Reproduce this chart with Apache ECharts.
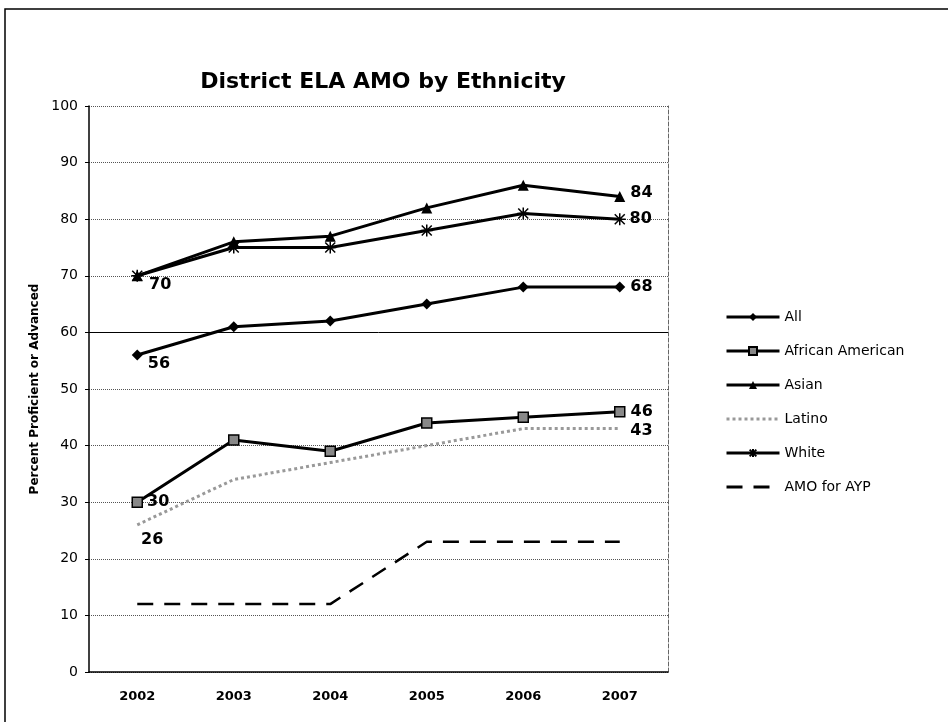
<!DOCTYPE html>
<html>
<head>
<meta charset="utf-8">
<script src="https://cdn.jsdelivr.net/npm/echarts@6/dist/echarts.min.js"></script>
<style>
    html, body { margin: 0; padding: 0; background: #fff; }
    #chart { width: 948px; height: 722px; }
</style>
</head>
<body>
<div id="chart"></div>
<script>
var years = ['2002', '2003', '2004', '2005', '2006', '2007'];
var data_all = [56, 61, 62, 65, 68, 68];
var data_african_american = [30, 41, 39, 44, 45, 46];
var data_asian = [70, 76, 77, 82, 86, 84];
var data_latino = [26, 34, 37, 40, 43, 43];
var data_white = [70, 75, 75, 78, 81, 80];
var data_amo = [12, 12, 12, 23, 23, 23];
var y_ticks = [0, 10, 20, 30, 40, 50, 60, 70, 80, 90, 100];

var labelFont = { fontFamily: 'DejaVu Sans', fontWeight: 'bold', fontSize: 16, color: '#000' };

// only the first and last point of a series carry a value label
function withLabels(values, first, last) {
    return values.map(function (v, i) {
        var item = { value: v };
        if (i == 0 && first) {
            item.label = Object.assign({ show: true }, labelFont, first);
        } else if (i == values.length - 1 && last) {
            item.label = Object.assign({ show: true }, labelFont, last);
        }
        return item;
    });
}

var asterisk = 'path://M0,0L10,10M10,0L0,10M5,-1L5,11M-1,5L11,5';

var myChart = echarts.init(document.getElementById('chart'));

var option = {
    animation: false,
    backgroundColor: '#fff',
    textStyle: { fontFamily: 'DejaVu Sans' },
    title: {
        text: 'District ELA AMO by Ethnicity',
        left: 378,
        textAlign: 'center',
        top: 66,
        textStyle: { fontFamily: 'DejaVu Sans', fontWeight: 'bold', fontSize: 22, color: '#000' }
    },
    legend: {
        orient: 'vertical',
        left: 725,
        top: 310,
        padding: 0,
        itemWidth: 53,
        itemHeight: 10,
        itemGap: 20,
        lineStyle: { width: 3 },
        textStyle: { fontFamily: 'DejaVu Sans', fontSize: 14, color: '#000' },
        data: ['All', 'African American', 'Asian', 'Latino', 'White', 'AMO for AYP']
    },
    graphic: [{
        type: 'rect',
        shape: { x: 5, y: 9, width: 980, height: 760 },
        style: { fill: 'none', stroke: '#000', lineWidth: 1.5 },
        silent: true
    }],
    grid: { left: 89, right: 280, top: 106, bottom: 50 },
    xAxis: {
        type: 'category',
        data: years,
        boundaryGap: true,
        axisLine: { lineStyle: { color: '#000', width: 1.5 } },
        axisTick: { show: false },
        axisLabel: { fontFamily: 'DejaVu Sans', fontWeight: 'bold', fontSize: 13, color: '#000', margin: 18 }
    },
    yAxis: [{
        type: 'value',
        min: 0,
        max: 100,
        interval: 10,
        name: 'Percent Proficient or Advanced',
        nameLocation: 'middle',
        nameGap: 48,
        nameTextStyle: { fontFamily: 'DejaVu Sans', fontWeight: 'bold', fontSize: 12, color: '#000' },
        axisLine: { show: true, lineStyle: { color: '#000', width: 1.5 } },
        axisTick: { show: true, inside: false, length: 4, lineStyle: { color: '#000' } },
        axisLabel: {
            fontFamily: 'DejaVu Sans', fontSize: 14, color: '#000', margin: 11,
            formatter: function (v) { return y_ticks.indexOf(v) >= 0 ? String(v) : ''; }
        },
        splitLine: { show: true, lineStyle: { color: '#555', type: 'dotted', width: 1 } }
    }, {
        type: 'value',
        position: 'right',
        min: 0,
        max: 100,
        interval: 10,
        axisLine: { show: true, lineStyle: { color: '#666', type: 'dashed', width: 1 } },
        axisTick: { show: false },
        axisLabel: { show: false },
        splitLine: { show: false }
    }],
    series: [{
        name: 'All',
        type: 'line',
        data: withLabels(data_all, { position: 'right', offset: [0, 9] }, { position: 'right', offset: [0, 0] }),
        symbol: 'diamond',
        symbolSize: 11,
        lineStyle: { color: '#000', width: 3 },
        itemStyle: { color: '#000' },
        markLine: {
            silent: true,
            symbol: 'none',
            label: { show: false },
            lineStyle: { color: '#000', type: 'solid', width: 1 },
            data: [{ yAxis: 60 }]
        }
    }, {
        name: 'African American',
        type: 'line',
        data: withLabels(data_african_american, { position: 'right', offset: [-1, 0] }, { position: 'right', offset: [0, 0] }),
        symbol: 'rect',
        symbolSize: 10,
        lineStyle: { color: '#000', width: 3 },
        itemStyle: { color: '#888', borderColor: '#000', borderWidth: 1.5 }
    }, {
        name: 'Asian',
        type: 'line',
        data: withLabels(data_asian, null, { position: 'right', offset: [0, -4] }),
        symbol: 'triangle',
        symbolSize: 11,
        lineStyle: { color: '#000', width: 3 },
        itemStyle: { color: '#000' }
    }, {
        name: 'Latino',
        type: 'line',
        data: withLabels(data_latino, { position: 'bottom', offset: [15, 2] }, { position: 'right', offset: [5, 2] }),
        symbol: 'circle',
        symbolSize: 1,
        lineStyle: { color: '#999', width: 3, type: 'dotted' },
        itemStyle: { color: 'rgba(0,0,0,0)' }
    }, {
        name: 'White',
        type: 'line',
        data: withLabels(data_white, { position: 'right', offset: [0, 9] }, { position: 'right', offset: [-2, 0] }),
        symbol: asterisk,
        symbolSize: 12,
        lineStyle: { color: '#000', width: 3 },
        itemStyle: { color: '#000', borderColor: '#000', borderWidth: 1.5 }
    }, {
        name: 'AMO for AYP',
        type: 'line',
        data: data_amo,
        symbol: 'circle',
        symbolSize: 1,
        lineStyle: { color: '#000', width: 2.5, type: [16, 11] },
        itemStyle: { color: 'rgba(0,0,0,0)' }
    }]
};

myChart.setOption(option);
</script>
</body>
</html>
